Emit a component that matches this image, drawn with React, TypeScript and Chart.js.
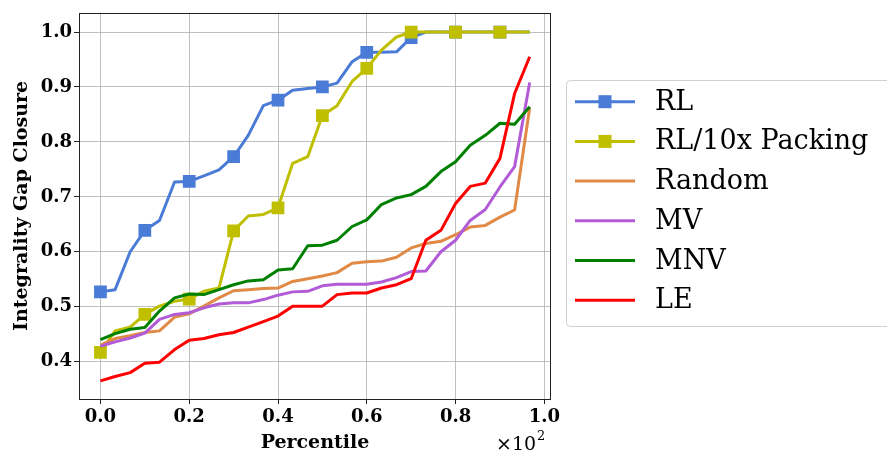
import React, { useEffect, useRef } from "react";
import { Chart, registerables } from "chart.js";
Chart.register(...registerables);

const percentile = [0.000, 0.033, 0.067, 0.100, 0.133, 0.167, 0.200, 0.233, 0.267, 0.300, 0.333, 0.367, 0.400, 0.433, 0.467, 0.500, 0.533, 0.567, 0.600, 0.633, 0.667, 0.700, 0.733, 0.767, 0.800, 0.833, 0.867, 0.900, 0.933, 0.967];

const rlValues = [0.527, 0.531, 0.600, 0.639, 0.657, 0.727, 0.728, 0.738, 0.749, 0.773, 0.812, 0.866, 0.876, 0.894, 0.897, 0.900, 0.907, 0.946, 0.963, 0.963, 0.964, 0.990, 1.0, 1.0, 1.0, 1.0, 1.0, 1.0, 1.0, 1.0];
const rlPackValues = [0.417, 0.456, 0.463, 0.486, 0.501, 0.510, 0.514, 0.528, 0.534, 0.638, 0.665, 0.668, 0.680, 0.761, 0.773, 0.848, 0.866, 0.910, 0.934, 0.967, 0.991, 1.0, 1.0, 1.0, 1.0, 1.0, 1.0, 1.0, 1.0, 1.0];
const randomValues = [0.430, 0.442, 0.447, 0.453, 0.456, 0.481, 0.487, 0.501, 0.516, 0.529, 0.531, 0.533, 0.534, 0.546, 0.551, 0.556, 0.562, 0.579, 0.582, 0.583, 0.590, 0.607, 0.615, 0.619, 0.631, 0.645, 0.648, 0.663, 0.676, 0.862];
const mvValues = [0.428, 0.436, 0.443, 0.452, 0.477, 0.486, 0.489, 0.498, 0.505, 0.507, 0.507, 0.513, 0.521, 0.527, 0.528, 0.538, 0.541, 0.541, 0.541, 0.545, 0.553, 0.564, 0.565, 0.600, 0.621, 0.657, 0.677, 0.718, 0.755, 0.908];
const mnvValues = [0.440, 0.451, 0.459, 0.462, 0.492, 0.516, 0.523, 0.522, 0.531, 0.540, 0.547, 0.549, 0.567, 0.569, 0.611, 0.612, 0.621, 0.646, 0.658, 0.686, 0.698, 0.704, 0.719, 0.746, 0.764, 0.794, 0.812, 0.834, 0.832, 0.864];
const leValues = [0.365, 0.373, 0.380, 0.397, 0.399, 0.422, 0.439, 0.442, 0.449, 0.453, 0.463, 0.473, 0.483, 0.501, 0.501, 0.501, 0.522, 0.525, 0.525, 0.534, 0.540, 0.551, 0.621, 0.639, 0.688, 0.719, 0.725, 0.770, 0.888, 0.955];

const seriesLabels = ["RL", "RL/10x Packing", "Random", "MV", "MNV", "LE"];
const seriesColors = ["#4a7bd6", "#bfbf00", "#e08a45", "#b25bd6", "#008000", "#ff0000"];
const seriesMarkers = [true, true, false, false, false, false];

const xTicks = [0.0, 0.2, 0.4, 0.6, 0.8, 1.0];
const yTicks = [0.4, 0.5, 0.6, 0.7, 0.8, 0.9, 1.0];

const SERIF = "'DejaVu Serif', serif";

export default function App() {
  const ref = useRef<HTMLCanvasElement>(null);
  useEffect(() => {
    const canvas = ref.current!;
    const all = [rlValues, rlPackValues, randomValues, mvValues, mnvValues, leValues];
    const datasets = all.map((vals, k) => ({
      label: seriesLabels[k],
      data: vals.map((y, i) => ({ x: percentile[i], y })),
      borderColor: seriesColors[k],
      backgroundColor: seriesColors[k],
      borderWidth: 3,
      borderJoinStyle: "round" as const,
      tension: 0,
      pointStyle: "rect" as const,
      pointRadius: seriesMarkers[k] ? (c: any) => (c.dataIndex % 3 === 0 ? 9 : 0) : 0,
      pointHoverRadius: 0,
      pointBorderWidth: 0,
      order: 10 - k,
    }));

    const overlay = {
      id: "overlay",
      afterDatasetsDraw(chart: any) {
        const { ctx, chartArea } = chart;
        ctx.save();
        ctx.strokeStyle = "#222";
        ctx.lineWidth = 1;
        ctx.strokeRect(Math.round(chartArea.left) + 0.5, Math.round(chartArea.top) + 0.5, Math.round(chartArea.right - chartArea.left) - 1, Math.round(chartArea.bottom - chartArea.top));
        ctx.restore();
      },
      afterDraw(chart: any) {
        const { ctx, chartArea } = chart;
        ctx.save();
        ctx.fillStyle = "#000";
        // axis titles
        ctx.font = `bold 19px ${SERIF}`;
        ctx.textAlign = "center";
        ctx.textBaseline = "middle";
        ctx.fillText("Percentile", (chartArea.left + chartArea.right) / 2, 443);
        ctx.save();
        ctx.translate(22, (chartArea.top + chartArea.bottom) / 2);
        ctx.rotate(-Math.PI / 2);
        ctx.fillText("Integrality Gap Closure", 0, 0);
        ctx.restore();
        // offset text
        ctx.textAlign = "left";
        ctx.font = `19px ${SERIF}`;
        ctx.fillText("\u00d710", 496, 445);
        const w = ctx.measureText("\u00d710").width;
        ctx.font = `13px ${SERIF}`;
        ctx.fillText("2", 496 + w + 1, 437);
        // legend
        const lx = 566.5, ly = 80.5, lw = 330, lh = 246;
        ctx.beginPath();
        ctx.roundRect(lx, ly, lw, lh, 4);
        ctx.fillStyle = "rgba(255,255,255,0.85)";
        ctx.fill();
        ctx.strokeStyle = "#d0d0d0";
        ctx.lineWidth = 1;
        ctx.stroke();
        ctx.font = `27px ${SERIF}`;
        ctx.textBaseline = "middle";
        seriesLabels.forEach((lab, k) => {
          const y = 101.7 + k * 39.7;
          ctx.strokeStyle = seriesColors[k];
          ctx.lineWidth = 3;
          ctx.beginPath();
          ctx.moveTo(575, y);
          ctx.lineTo(635, y);
          ctx.stroke();
          if (seriesMarkers[k]) {
            ctx.fillStyle = seriesColors[k];
            ctx.fillRect(605 - 6.5, y - 6.5, 13, 13);
          }
          ctx.fillStyle = "#000";
          ctx.fillText(lab, 655, y + 1);
        });
        ctx.restore();
      },
    };

    const chart = new Chart(canvas, {
      type: "line",
      data: { datasets },
      options: {
        responsive: false,
        animation: false,
        events: [],
        layout: { padding: { left: 0, right: 336, top: 7, bottom: 0 } },
        plugins: { legend: { display: false }, tooltip: { enabled: false } },
        scales: {
          x: {
            type: "linear",
            min: -0.0483,
            max: 1.015,
            afterBuildTicks: (s: any) => { s.ticks = xTicks.map((v) => ({ value: v })); },
            afterFit: (s: any) => { s.height = 56; },
            ticks: {
              callback: (v: any) => Number(v).toFixed(1),
              font: { family: SERIF, size: 18, weight: "bold" },
              color: "#000",
              padding: 3,
              maxRotation: 0,
              autoSkip: false,
            },
            grid: { color: "rgba(176,176,176,0.8)", lineWidth: 1, tickLength: 5, tickColor: "#222", drawOnChartArea: true },
            border: { display: false },
          },
          y: {
            type: "linear",
            min: 0.332,
            max: 1.035,
            afterBuildTicks: (s: any) => { s.ticks = yTicks.map((v) => ({ value: v })); },
            afterFit: (s: any) => { s.width = 79; },
            ticks: {
              callback: (v: any) => Number(v).toFixed(1),
              font: { family: SERIF, size: 18, weight: "bold" },
              color: "#000",
              padding: 2,
              autoSkip: false,
            },
            grid: { color: "rgba(176,176,176,0.8)", lineWidth: 1, tickLength: 5, tickColor: "#222" },
            border: { display: false },
          },
        },
      },
      plugins: [overlay],
    });
    return () => chart.destroy();
  }, []);
  return (
    <div style={{ position: "absolute", left: 0, top: 0, width: 887, height: 455, background: "#fff" }}>
      <canvas ref={ref} width={887} height={455} style={{ width: 887, height: 455, display: "block" }} />
    </div>
  );
}
